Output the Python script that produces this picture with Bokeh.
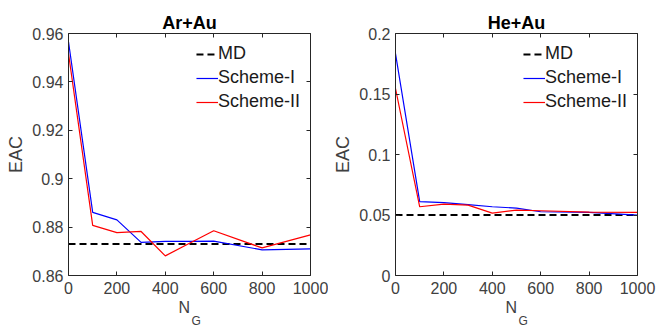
from bokeh.plotting import figure
from bokeh.layouts import row
from bokeh.models import LinearAxis, FixedTicker, CustomJSTickFormatter, Legend, LegendItem, Range1d, Title
from bokeh.embed import file_html
from bokeh.resources import INLINE

# ---------------- data ----------------
ng = [0, 100, 200, 300, 400, 500, 600, 800, 1000]

ar_title = "Ar+Au"
ar_scheme1 = [0.9566, 0.8861, 0.8830, 0.8737, 0.8741, 0.8741, 0.8742, 0.8706, 0.8710]
ar_scheme2 = [0.9517, 0.8807, 0.8777, 0.8782, 0.8681, 0.8733, 0.8785, 0.8714, 0.8768]
ar_md = 0.8730
ar_yticks = [0.86, 0.88, 0.90, 0.92, 0.94, 0.96]
ar_yticklabels = ["0.86", "0.88", "0.9", "0.92", "0.94", "0.96"]

he_title = "He+Au"
he_scheme1 = [0.1834, 0.0610, 0.0602, 0.0585, 0.0568, 0.0557, 0.0527, 0.0521, 0.0499]
he_scheme2 = [0.1545, 0.0568, 0.0590, 0.0582, 0.0516, 0.0541, 0.0535, 0.0524, 0.0521]
he_md = 0.05
he_yticks = [0.0, 0.05, 0.10, 0.15, 0.20]
he_yticklabels = ["0", "0.05", "0.1", "0.15", "0.2"]

xticks = [0, 200, 400, 600, 800, 1000]
xticklabels = ["0", "200", "400", "600", "800", "1000"]

legend_labels = ["MD", "Scheme-I", "Scheme-II"]
ylabel = "EAC"
xlabel_main = "N"
xlabel_sub = "G"

FONT = "Liberation Sans"
AXC = "#262626"
TXC = "#404040"


def style_axis(ax, ticks, labels=None):
    ax.ticker = FixedTicker(ticks=ticks)
    ax.axis_line_color = AXC
    ax.axis_line_width = 1
    ax.major_tick_line_color = AXC
    ax.major_tick_in = 4
    ax.major_tick_out = 0
    ax.minor_tick_line_color = None
    ax.major_label_text_font = FONT
    ax.major_label_text_color = TXC
    ax.major_label_text_font_size = "16px"
    if labels is not None:
        ax.major_label_overrides = {t: l for t, l in zip(ticks, labels)}
    else:
        ax.formatter = CustomJSTickFormatter(code="return ''")
        ax.major_label_standoff = 0
        ax.major_label_text_font_size = "1px"


def make_panel(title, s1, s2, md, yticks, yticklabels, ymin, ymax, bl, br):
    p = figure(width=328, height=330, output_backend="svg", toolbar_location=None,
               x_range=Range1d(ng[0], ng[-1]), y_range=Range1d(ymin, ymax),
               x_axis_type=None, y_axis_type=None,
               min_border_left=bl, min_border_right=br, min_border_top=33, min_border_bottom=55)
    p.title.text = title
    p.title.align = "center"
    p.title.text_font = FONT
    p.title.text_font_size = "18px"
    p.title.text_font_style = "bold"
    p.title.text_color = "#000000"
    p.title.standoff = 2
    p.outline_line_color = None
    p.xgrid.visible = False
    p.ygrid.visible = False
    p.background_fill_color = "white"
    p.border_fill_color = "white"

    xb = LinearAxis(); style_axis(xb, xticks, xticklabels); xb.major_label_standoff = 6
    yl = LinearAxis(); style_axis(yl, yticks, yticklabels); yl.major_label_standoff = 5
    yl.axis_label = ylabel
    yl.axis_label_text_font = FONT
    yl.axis_label_text_font_size = "18px"
    yl.axis_label_text_font_style = "normal"
    yl.axis_label_text_color = TXC
    yl.axis_label_standoff = 3
    xa = LinearAxis(); style_axis(xa, xticks)
    yr = LinearAxis(); style_axis(yr, yticks)
    p.add_layout(xb, "below")
    p.add_layout(yl, "left")
    p.add_layout(xa, "above")
    p.add_layout(yr, "right")

    tn = Title(text=xlabel_main, align="left", offset=110, standoff=4, vertical_align="top",
               text_font=FONT, text_font_size="16px", text_font_style="normal", text_color=TXC)
    tg = Title(text=xlabel_sub, align="left", offset=123, standoff=-11, vertical_align="top",
               text_font=FONT, text_font_size="12px", text_font_style="normal", text_color=TXC)
    p.add_layout(tn, "below")
    p.add_layout(tg, "below")

    r_md = p.line([ng[0], ng[-1]], [md, md], line_color="black", line_width=2, line_dash="7 4")
    r1 = p.line(ng, s1, line_color="#0000ff", line_width=1.2)
    r2 = p.line(ng, s2, line_color="#ff0000", line_width=1.2)

    leg = Legend(items=[LegendItem(label=legend_labels[0], renderers=[r_md]),
                        LegendItem(label=legend_labels[1], renderers=[r1]),
                        LegendItem(label=legend_labels[2], renderers=[r2])],
                 location="top_right")
    leg.background_fill_alpha = 0
    leg.border_line_alpha = 0
    leg.label_text_font = FONT
    leg.label_text_font_size = "18px"
    leg.label_text_color = "#1a1a1a"
    leg.glyph_width = 22
    leg.glyph_height = 20
    leg.label_height = 20
    leg.label_standoff = 0
    leg.spacing = 3
    leg.padding = 4
    leg.margin = 6
    p.add_layout(leg, "center")
    return p


p1 = make_panel(ar_title, ar_scheme1, ar_scheme2, ar_md, ar_yticks, ar_yticklabels, 0.86, 0.96, 68, 18)
p2 = make_panel(he_title, he_scheme1, he_scheme2, he_md, he_yticks, he_yticklabels, 0.0, 0.2, 67, 19)

layout = row(p1, p2)
open("out.html", "w").write(file_html(layout, INLINE))
